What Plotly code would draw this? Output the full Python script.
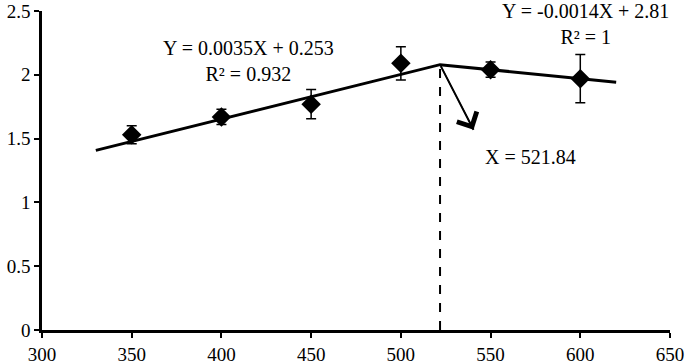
import plotly.graph_objects as go

# Data
x_vals = [350, 400, 450, 500, 550, 600]
y_vals = [1.53, 1.67, 1.77, 2.09, 2.04, 1.97]
y_err = [0.07, 0.06, 0.115, 0.13, 0.06, 0.19]

slope1, icpt1 = 0.0035, 0.253
slope2, icpt2 = -0.0014, 2.81
x_start, x_break, x_end = 330, 521.84, 620
arrow_tip = (540.5, 1.57)

x_ticks = [300, 350, 400, 450, 500, 550, 600, 650]
y_ticks = [0, 0.5, 1, 1.5, 2, 2.5]

eq1 = "Y = 0.0035X + 0.253<br>R² = 0.932"
eq2 = "Y = -0.0014X + 2.81<br>R² = 1"
break_label = "X = 521.84"

FONT = "Liberation Serif, Times New Roman, serif"

y_break = slope1 * x_break + icpt1
fit_x = [x_start, x_break, x_end]
fit_y = [slope1 * x_start + icpt1, y_break, slope2 * x_end + icpt2]

fig = go.Figure()
fig.add_trace(go.Scatter(
    x=fit_x, y=fit_y, mode="lines",
    line=dict(color="black", width=3), showlegend=False, hoverinfo="skip"))
fig.add_trace(go.Scatter(
    x=x_vals, y=y_vals, mode="markers",
    marker=dict(symbol="diamond", size=15, color="black"),
    error_y=dict(type="data", array=y_err, color="black", thickness=1.5, width=5),
    showlegend=False))

fig.add_shape(type="line", x0=x_break, x1=x_break, y0=0, y1=y_break,
              line=dict(color="black", width=2, dash="dash"), layer="below")

# arrow shaft
fig.add_annotation(x=arrow_tip[0], y=arrow_tip[1], ax=x_break, ay=y_break,
                   axref="x", ayref="y", xref="x", yref="y", text="",
                   showarrow=True, arrowhead=0, arrowwidth=2,
                   arrowcolor="black")
# arrow head (thin open V)
fig.add_annotation(x=arrow_tip[0], y=arrow_tip[1], ax=x_break, ay=y_break,
                   axref="x", ayref="y", xref="x", yref="y", text="",
                   showarrow=True, arrowhead=4, arrowsize=3.6, arrowwidth=1.2,
                   arrowcolor="black")

fig.add_annotation(x=415, y=2.11, xref="x", yref="y", text=eq1, showarrow=False,
                   font=dict(family=FONT, size=20, color="black"), align="center")
fig.add_annotation(x=603, y=2.40, xref="x", yref="y", text=eq2, showarrow=False,
                   font=dict(family=FONT, size=20, color="black"), align="center")
fig.add_annotation(x=572, y=1.355, xref="x", yref="y", text=break_label, showarrow=False,
                   font=dict(family=FONT, size=20, color="black"))

fig.update_xaxes(range=[300, 650], tickvals=x_ticks, ticks="outside", ticklen=5,
                 tickwidth=2, tickcolor="black", showline=True, linecolor="black",
                 linewidth=2.5, showgrid=False, zeroline=False, automargin=False,
                 ticklabeloverflow="allow",
                 tickfont=dict(family=FONT, size=19, color="black"))
fig.update_yaxes(range=[0, 2.5], tickvals=y_ticks, ticktext=["0", "0.5", "1", "1.5", "2", "2.5"],
                 ticks="outside", ticklen=5,
                 tickwidth=2, tickcolor="black", showline=True, linecolor="black",
                 linewidth=2.5, showgrid=False, zeroline=False, automargin=False,
                 ticklabeloverflow="allow",
                 tickfont=dict(family=FONT, size=19, color="black"))

fig.update_layout(width=685, height=364, margin=dict(l=42, r=15, t=11, b=34),
                  plot_bgcolor="white", paper_bgcolor="white")

fig.write_html("out.html", config={"displayModeBar": False},
               post_script="document.body.style.margin='0';document.body.style.overflow='hidden';")
